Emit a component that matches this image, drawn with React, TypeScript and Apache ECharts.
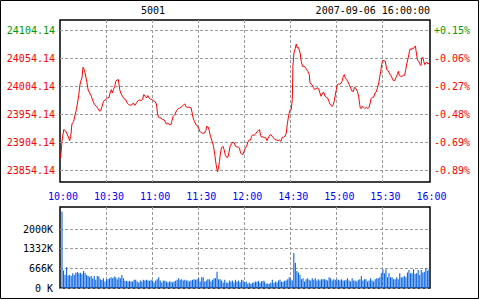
import React, { useEffect, useRef } from 'react';
import * as echarts from 'echarts';

const titleText = '5001';
const stampText = '2007-09-06 16:00:00';

const timeTickMinutes = [0, 30, 60, 90, 120, 150, 180, 210, 240];
const timeLabels = ['10:00', '10:30', '11:00', '11:30', '12:00', '14:30', '15:00', '15:30', '16:00'];
const innerTimeLines = [30, 60, 90, 120, 150, 180, 210];

const priceTicks = [23854.14, 23904.14, 23954.14, 24004.14, 24054.14, 24104.14];
const percentLabels = ['-0.89%', '-0.69%', '-0.48%', '-0.27%', '-0.06%', '+0.15%'];

const volumeTicks = [0, 666, 1332, 2000];
const volumeLabels = ['0 K', '666K', '1332K', '2000K'];

const priceMinutes = [
  0.4, 1.3, 2.4, 3.5, 4.6, 5.7, 6.3, 7.0, 7.8, 8.9, 9.6, 10.7, 11.3, 12.2, 12.8, 13.5, 14.3, 15.0, 15.7, 16.5,
  17.6, 18.3, 19.3, 20.4, 21.5, 22.6, 23.7, 24.8, 25.9, 26.5, 27.4, 28.3, 29.6, 30.9, 32.0, 32.6, 33.5, 34.1, 34.8, 35.7,
  36.3, 37.2, 38.0, 38.9, 39.6, 40.7, 41.7, 42.8, 43.7, 44.8, 45.9, 47.0, 47.6, 48.3, 48.7, 49.8, 50.9, 51.9, 53.0, 53.7,
  54.6, 55.4, 56.3, 57.2, 58.0, 58.9, 59.8, 60.6, 61.7, 62.8, 63.5, 64.1, 65.0, 65.9, 66.7, 67.6, 68.5, 69.3, 70.2, 71.1,
  72.2, 72.8, 73.7, 74.8, 75.9, 77.0, 78.0, 78.7, 79.3, 80.2, 81.3, 81.9, 82.8, 83.7, 84.6, 85.4, 86.1, 86.7, 87.6, 88.5,
  89.3, 90.2, 91.1, 92.2, 93.3, 94.1, 95.0, 95.6, 96.5, 97.2, 98.0, 99.1, 100.0, 100.8, 101.7, 102.6, 103.2, 103.9, 104.5, 105.2,
  106.1, 106.9, 107.6, 108.5, 109.3, 110.0, 110.8, 111.7, 112.6, 113.5, 114.3, 115.2, 116.1, 116.9, 117.6, 118.2, 119.1, 119.8, 120.6, 121.5,
  122.4, 123.2, 124.1, 124.8, 125.6, 126.5, 127.4, 128.2, 129.1, 130.0, 130.6, 131.3, 132.2, 133.0, 133.9, 134.8, 135.6, 136.5, 137.4, 138.2,
  139.1, 140.0, 141.1, 142.2, 143.0, 143.9, 144.8, 145.6, 146.5, 147.4, 148.0, 148.7, 149.3, 150.0, 150.6, 151.3, 151.7, 152.4, 153.2, 153.9,
  154.5, 155.2, 155.8, 156.5, 157.1, 158.0, 158.9, 159.8, 160.6, 161.5, 162.4, 162.8, 163.4, 164.1, 165.0, 165.8, 166.7, 167.6, 168.4, 169.3,
  170.0, 170.8, 171.7, 172.6, 173.4, 174.3, 175.2, 175.8, 176.5, 177.4, 178.0, 178.7, 179.3, 180.0, 180.6, 181.5, 182.4, 183.2, 183.9, 184.5,
  185.2, 185.8, 186.7, 187.6, 188.4, 189.3, 190.2, 191.0, 191.9, 192.8, 193.7, 194.5, 195.2, 195.6, 196.3, 196.9, 197.8, 198.6, 199.5, 200.4,
  201.3, 201.9, 202.6, 203.4, 204.3, 205.2, 206.0, 206.9, 207.6, 208.2, 208.9, 209.5, 210.2, 211.0, 211.9, 212.8, 213.7, 214.5, 215.4, 216.3,
  217.1, 218.0, 218.9, 219.7, 220.4, 221.0, 221.9, 222.8, 223.6, 224.5, 225.2, 226.0, 226.9, 227.6, 228.2, 228.9, 229.5, 230.2, 230.8, 231.5,
  231.9, 232.6, 233.2, 233.9, 234.5, 235.2, 235.6, 236.3, 236.9, 237.6, 238.3, 238.9, 239.6, 240.4,
];

const prices = [
  23876.2, 23905.9, 23926.7, 23925.0, 23919.0, 23911.9, 23907.1, 23914.9, 23936.9, 23941.6, 23950.6, 23962.5, 23972.6, 23988.1, 24004.1, 24013.1, 24019.0, 24038.1, 24033.9, 24026.2,
  24010.1, 23998.2, 23992.2, 23986.3, 23977.4, 23971.4, 23968.4, 23964.3, 23959.5, 23960.7, 23968.4, 23977.4, 23980.3, 23983.3, 23984.5, 23992.2, 23998.2, 23992.2, 23998.2, 24004.1,
  24013.1, 24015.5, 24016.1, 23998.2, 23992.2, 23986.3, 23982.1, 23980.3, 23974.4, 23971.4, 23970.2, 23971.4, 23974.0, 23972.6, 23970.2, 23974.4, 23978.6, 23979.7, 23978.6, 23980.3,
  23989.3, 23986.3, 23983.3, 23987.5, 23983.3, 23981.5, 23980.3, 23978.6, 23977.4, 23972.6, 23956.5, 23948.8, 23947.6, 23947.6, 23944.6, 23944.6, 23941.6, 23936.9, 23938.7, 23935.7,
  23935.7, 23941.6, 23950.6, 23953.6, 23960.7, 23964.3, 23965.4, 23966.6, 23967.8, 23970.2, 23972.6, 23968.4, 23966.6, 23966.6, 23966.6, 23965.4, 23956.5, 23947.6, 23941.6, 23935.7,
  23934.5, 23929.7, 23923.8, 23920.8, 23920.2, 23920.8, 23925.0, 23932.7, 23931.5, 23925.0, 23914.9, 23905.9, 23897.0, 23882.1, 23864.3, 23851.2, 23858.3, 23870.2, 23885.1, 23894.0,
  23897.0, 23891.0, 23882.1, 23877.4, 23877.4, 23885.1, 23897.0, 23901.2, 23904.7, 23903.0, 23897.0, 23895.8, 23895.8, 23894.0, 23885.1, 23883.3, 23882.1, 23888.0, 23892.8, 23897.0,
  23904.7, 23908.3, 23908.3, 23914.9, 23917.8, 23916.6, 23919.0, 23922.6, 23925.0, 23926.7, 23916.6, 23913.1, 23914.3, 23911.9, 23913.1, 23907.1, 23911.9, 23916.6, 23917.8, 23914.9,
  23911.9, 23908.9, 23908.3, 23907.1, 23908.3, 23905.9, 23913.1, 23913.1, 23914.9, 23920.8, 23935.7, 23947.6, 23956.5, 23962.5, 23962.5, 23980.3, 24039.8, 24063.7, 24071.4, 24079.7,
  24072.6, 24073.8, 24069.6, 24061.9, 24048.8, 24039.8, 24039.8, 24038.1, 24033.9, 24030.9, 24025.0, 24010.1, 24008.3, 24007.1, 24002.4, 23998.2, 24000.0, 24001.2, 24000.0, 23992.2,
  23986.3, 23990.4, 23994.0, 23986.3, 23984.5, 23983.3, 23977.4, 23972.6, 23970.2, 23968.4, 23971.4, 23978.6, 23988.1, 23998.2, 24007.1, 24008.3, 24008.3, 24010.1, 24014.3, 24022.0,
  24025.0, 24019.0, 24016.1, 24011.9, 24007.1, 24001.2, 23995.2, 23995.2, 24002.4, 24000.0, 23995.2, 23986.3, 23972.0, 23965.4, 23964.3, 23968.4, 23966.6, 23964.3, 23966.6, 23964.3,
  23966.6, 23972.6, 23982.1, 23984.5, 23984.5, 23992.2, 23994.0, 24002.4, 24010.1, 24020.2, 24030.9, 24042.8, 24050.0, 24050.0, 24048.8, 24033.9, 24032.1, 24027.9, 24023.8, 24019.0,
  24014.3, 24014.3, 24020.2, 24025.0, 24030.9, 24023.8, 24022.0, 24022.0, 24023.8, 24023.8, 24033.9, 24045.8, 24055.9, 24066.6, 24071.4, 24069.0, 24072.6, 24071.4, 24073.8, 24076.2,
  24067.8, 24054.7, 24050.0, 24047.6, 24042.8, 24041.6, 24054.7, 24055.9, 24048.8, 24042.8, 24045.8, 24047.6, 24044.0, 24045.2,
];

// volume in K, one bar per minute, minutes 1..240
const volumes = [
  2590, 590, 450, 700, 420, 440, 410, 500, 440, 520, 545, 500, 520, 470, 580, 520, 440, 410, 370, 410,
  320, 410, 280, 410, 390, 300, 270, 330, 220, 300,
  300, 333, 366, 333, 389, 366, 300, 366, 333, 444, 333, 244, 244, 222, 244, 222, 222, 278, 278, 222,
  189, 255, 222, 278, 255, 278, 255, 244, 278, 255,
  189, 255, 300, 366, 255, 189, 255, 244, 222, 189, 222, 222, 189, 222, 244, 278, 333, 278, 300, 255,
  278, 255, 255, 222, 255, 278, 300, 278, 300, 333,
  222, 366, 366, 222, 255, 300, 300, 222, 278, 333, 333, 555, 300, 300, 255, 189, 278, 189, 167, 255,
  222, 255, 189, 278, 222, 255, 189,
  278, 255, 200, 222, 144, 189, 133, 178, 189, 222, 211, 244, 178, 233, 244, 222, 144, 155, 144, 178,
  278, 167, 222, 189, 255, 278, 211, 211, 244, 255, 300, 366,
  300, 255,
  1188, 855, 577, 522, 444, 300, 333, 222, 300, 333, 280,
  255, 333, 278, 333, 255, 300, 255, 300, 300, 300, 278,
  255, 366, 333, 255, 300, 278, 300, 278, 255, 300, 255,
  255, 278, 333, 255, 222, 333, 255, 255, 222, 278, 300,
  411, 255, 300, 300, 222, 255, 333, 255, 222, 300, 333,
  333, 366, 500, 633, 500, 633, 366, 500, 366, 366, 300,
  300, 366, 300, 500, 366, 366, 411, 366, 522, 611, 500,
  500, 633, 477, 500, 611, 444, 611, 522, 555, 666, 588,
  620,
];

const MONO = 'DejaVu Sans Mono';
const GRID_LINE = { color: '#9a9a9a', width: 1, type: [3, 2] as number[] };
const UP = '#009a00';
const DOWN = '#ff0000';
const SESSION_MINUTES = 241;
// bars sit just to the right of their minute mark, as in the source terminal
const BAR_SHIFT = 0.3;

export default function App() {
  const ref = useRef<HTMLDivElement>(null);

  useEffect(() => {
    document.body.style.margin = '0';
    if (!ref.current) return;
    const chart = echarts.init(ref.current, null, { renderer: 'svg' });

    const tickIndex = (v: any) => {
      const n = Number(v);
      let best = 0;
      for (let i = 0; i < priceTicks.length; i++) {
        if (Math.abs(priceTicks[i] - n) < Math.abs(priceTicks[best] - n)) best = i;
      }
      return best;
    };
    const tickColor = (v: any) => (percentLabels[tickIndex(v)].startsWith('+') ? UP : DOWN);

    const option: any = {
      animation: false,
      backgroundColor: '#ffffff',
      grid: [
        { left: 60, top: 20, width: 370, height: 162, show: true, borderColor: '#000', borderWidth: 1.5, backgroundColor: '#fff' },
        { left: 60, top: 207, width: 370, height: 81, show: true, borderColor: '#000', borderWidth: 1.5, backgroundColor: '#fff' },
      ],
      xAxis: [
        {
          type: 'value', gridIndex: 0, min: 0, max: SESSION_MINUTES,
          axisLine: { show: false },
          axisTick: { show: false, customValues: innerTimeLines },
          splitLine: { show: true, lineStyle: GRID_LINE },
          axisLabel: {
            customValues: timeTickMinutes,
            formatter: (v: any) => timeLabels[timeTickMinutes.indexOf(Number(v))] ?? '',
            color: '#0000ff', fontFamily: MONO, fontSize: 10, margin: 9, padding: [0, 0, 0, 6],
          },
        },
        {
          type: 'value', gridIndex: 1, min: 0, max: SESSION_MINUTES,
          axisLine: { show: false },
          axisTick: { show: false, customValues: innerTimeLines },
          splitLine: { show: true, lineStyle: GRID_LINE },
          axisLabel: { show: false },
        },
      ],
      yAxis: [
        {
          type: 'value', gridIndex: 0, min: 23833.25, max: 24122.53,
          axisLine: { show: false },
          axisTick: { show: false, customValues: priceTicks },
          splitLine: { show: true, lineStyle: GRID_LINE },
          axisLabel: {
            customValues: priceTicks,
            formatter: (v: any) => Number(v).toFixed(2),
            color: (v: any) => tickColor(v),
            fontFamily: MONO, fontSize: 10, margin: 5,
          },
        },
        {
          type: 'value', gridIndex: 0, position: 'right', min: 23833.25, max: 24122.53,
          axisLine: { show: false },
          axisTick: { show: false, customValues: priceTicks },
          splitLine: { show: false },
          axisLabel: {
            customValues: priceTicks,
            formatter: (v: any) => percentLabels[tickIndex(v)],
            color: (v: any) => tickColor(v),
            fontFamily: MONO, fontSize: 10, margin: 4,
          },
        },
        {
          type: 'value', gridIndex: 1, min: 0, max: 2746,
          axisLine: { show: false },
          axisTick: { show: false, customValues: volumeTicks },
          splitLine: { show: true, lineStyle: GRID_LINE },
          axisLabel: {
            customValues: volumeTicks,
            formatter: (v: any) => volumeLabels[volumeTicks.indexOf(Number(v))] ?? '',
            color: '#000', fontFamily: MONO, fontSize: 10, margin: 7,
          },
        },
      ],
      series: [
        {
          type: 'line', xAxisIndex: 0, yAxisIndex: 0,
          data: priceMinutes.map((m, i) => [m, prices[i]]),
          symbol: 'none', silent: true,
          lineStyle: { color: '#ff0000', width: 1 },
        },
        {
          type: 'bar', xAxisIndex: 1, yAxisIndex: 2,
          data: volumes.map((v, i) => [i + 1 + BAR_SHIFT, v]),
          barWidth: 1.1, silent: true, clip: false, z: 5,
          itemStyle: { color: '#0a64e6' },
        },
      ],
      graphic: [
        {
          type: 'rect', silent: true, z: 100,
          shape: { x: 0.5, y: 0.5, width: 478, height: 298 },
          style: { fill: 'none', stroke: '#000', lineWidth: 1 },
        },
        {
          type: 'text', silent: true, x: 153, y: 10,
          style: { text: titleText, align: 'center', verticalAlign: 'middle', font: `10px "${MONO}"`, fill: '#000' },
        },
        {
          type: 'text', silent: true, x: 430, y: 10,
          style: { text: stampText, align: 'right', verticalAlign: 'middle', font: `10px "${MONO}"`, fill: '#000' },
        },
      ],
    };

    chart.setOption(option);
    return () => chart.dispose();
  }, []);

  return <div ref={ref} style={{ width: 480, height: 300 }} />;
}
